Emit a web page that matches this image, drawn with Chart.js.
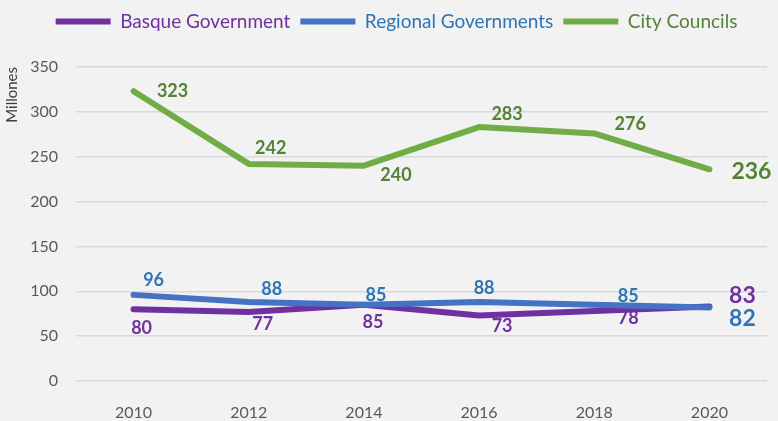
<!DOCTYPE html>
<html>
<head>
<meta charset="utf-8">
<script src="https://cdn.jsdelivr.net/npm/chart.js@4"></script>
<style>
  html, body { margin: 0; padding: 0; background: #f2f2f2; }
  #wrap { width: 778px; height: 421px; }
</style>
</head>
<body>
<div id="wrap"><canvas id="chart" width="778" height="421"></canvas></div>
<script>
const years = ['2010', '2012', '2014', '2016', '2018', '2020'];
const basqueGov = [80, 77, 85, 73, 78, 83];
const regionalGov = [96, 88, 85, 88, 85, 82];
const cityCouncils = [323, 242, 240, 283, 276, 236];
const yTicks = [0, 50, 100, 150, 200, 250, 300, 350];

// where each value label sits relative to its point (like datalabels align/offset)
const labelPlacement = {
  basque:   [[8, 19], [14, 12], [9, 17], [23, 11], [34, 7], [33, -11]],
  regional: [[20, -15], [23, -13], [12, -10], [5, -14], [34, -9], [33, 11]],
  city:     [[39, 0], [22, -16], [32, 10], [28, -13], [36, -9], [42, 2]]
};

const FONT = 'Lato, "Open Sans", sans-serif';

const bgPlugin = {
  id: 'bg',
  beforeDraw(chart) {
    const c = chart.ctx;
    c.save();
    c.fillStyle = '#f2f2f2';
    c.fillRect(0, 0, chart.width, chart.height);
    c.restore();
  }
};

// extra room under the legend, and nudge it a bit to the right
const legendGap = {
  id: 'legendGap',
  beforeInit(chart) {
    const fit = chart.legend.fit;
    chart.legend.fit = function () {
      fit.call(this);
      this.height += 26;
    };
  },
  afterLayout(chart) {
    chart.legend.left += 13;
    chart.legend.right += 13;
  }
};

const valueLabels = {
  id: 'valueLabels',
  afterDatasetsDraw(chart) {
    const c = chart.ctx;
    chart.data.datasets.forEach((ds, di) => {
      const meta = chart.getDatasetMeta(di);
      const place = labelPlacement[ds.key];
      meta.data.forEach((pt, i) => {
        const last = i === ds.data.length - 1;
        c.save();
        c.font = 'bold ' + (last ? 23 : 18) + 'px ' + FONT;
        c.fillStyle = ds.labelColor;
        c.textAlign = 'center';
        c.textBaseline = 'middle';
        c.fillText(String(ds.data[i]), pt.x + place[i][0], pt.y + place[i][1]);
        c.restore();
      });
    });
  }
};

new Chart(document.getElementById('chart'), {
  type: 'line',
  data: {
    labels: years,
    datasets: [
      {
        key: 'basque',
        label: 'Basque Government',
        data: basqueGov,
        borderColor: '#7030a0',
        backgroundColor: '#7030a0',
        labelColor: '#7030a0',
        order: 1
      },
      {
        key: 'regional',
        label: 'Regional Governments',
        data: regionalGov,
        borderColor: '#4472c4',
        backgroundColor: '#4472c4',
        labelColor: '#2e75b6',
        order: 0
      },
      {
        key: 'city',
        label: 'City Councils',
        data: cityCouncils,
        borderColor: '#70ad47',
        backgroundColor: '#70ad47',
        labelColor: '#548235',
        order: 2
      }
    ]
  },
  options: {
    responsive: false,
    animation: false,
    layout: { padding: { top: 2, right: 11, left: 0, bottom: 0 } },
    elements: {
      line: { borderWidth: 6, tension: 0, borderCapStyle: 'round', borderJoinStyle: 'round', fill: false },
      point: { radius: 0, hoverRadius: 0 }
    },
    plugins: {
      tooltip: { enabled: false },
      legend: {
        position: 'top',
        labels: {
          boxWidth: 55,
          boxHeight: 6,
          padding: 10,
          font: { family: FONT, size: 19 },
          generateLabels(chart) {
            return chart.data.datasets.map((ds, i) => ({
              text: ds.label,
              fillStyle: ds.borderColor,
              strokeStyle: ds.borderColor,
              lineWidth: 0,
              fontColor: ds.labelColor,
              datasetIndex: i,
              hidden: false
            }));
          }
        }
      }
    },
    scales: {
      x: {
        offset: true,
        grid: { display: false },
        border: { display: false },
        ticks: { color: '#595959', padding: 14, font: { family: FONT, size: 16 } },
        afterFit(scale) { scale.height = 40; }
      },
      y: {
        min: 0,
        max: 350,
        afterBuildTicks(scale) { scale.ticks = yTicks.map(v => ({ value: v })); },
        grid: { color: '#d9d9d9', lineWidth: 1.5, drawTicks: false },
        border: { display: false },
        ticks: { color: '#595959', padding: 18, font: { family: FONT, size: 16 } },
        title: {
          display: true, text: 'Millones', align: 'end', color: '#404040',
          padding: { top: 3, bottom: 0 }, font: { family: FONT, size: 15 }
        },
        afterFit(scale) { scale.width = 76; }
      }
    }
  },
  plugins: [bgPlugin, legendGap, valueLabels]
});
</script>
</body>
</html>
